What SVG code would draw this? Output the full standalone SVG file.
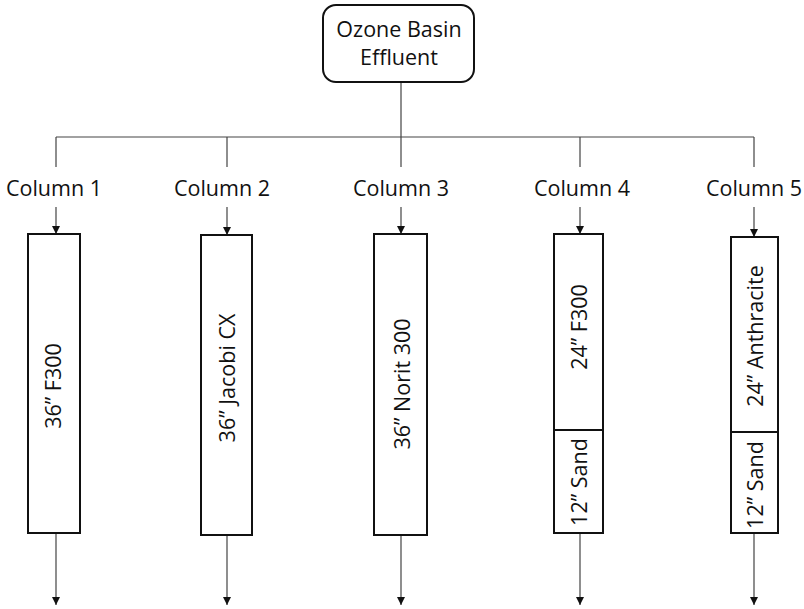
<svg xmlns="http://www.w3.org/2000/svg" width="804" height="609" viewBox="0 0 804 609">
<style>
text{font-family:"Open Sans","Liberation Sans",sans-serif;font-size:21.5px;fill:#111}
.box{fill:#fff;stroke:#111;stroke-width:2}
.ln{fill:none;stroke:#444;stroke-width:1.2}
.arr{fill:none;stroke:#444;stroke-width:1.2;marker-end:url(#ah)}
.c{text-anchor:middle}
</style>
<defs>
<marker id="ah" markerWidth="10" markerHeight="10" refX="9" refY="5" orient="auto" markerUnits="userSpaceOnUse">
<path d="M1,1 L9,5 L1,9 z" fill="#111"/>
</marker>
</defs>
<rect width="804" height="609" fill="#fff"/>
<g id="connectors">
<path class="ln" d="M401,82 V137 M56,137 H754 M56,137 V167 M227,137 V167 M401,137 V167 M580,137 V167 M754,137 V167"/>
<path class="arr" d="M56,207 V234"/>
<path class="arr" d="M227,207 V235"/>
<path class="arr" d="M401,207 V234"/>
<path class="arr" d="M580,207 V234"/>
<path class="arr" d="M754,207 V237"/>
<path class="arr" d="M56,533 V605"/>
<path class="arr" d="M227,535 V605"/>
<path class="arr" d="M401,535 V605"/>
<path class="arr" d="M580,533 V605"/>
<path class="arr" d="M754,533 V605"/>
</g>
<g id="source">
<rect class="box" x="323" y="5" width="151" height="77" rx="13"/>
<text class="c" x="399" y="37">Ozone Basin</text>
<text class="c" x="399" y="65">Effluent</text>
</g>
<g id="label1"><text class="c" x="54" y="196">Column 1</text></g>
<g id="label2"><text class="c" x="222" y="196">Column 2</text></g>
<g id="label3"><text class="c" x="401" y="196">Column 3</text></g>
<g id="label4"><text class="c" x="582" y="196">Column 4</text></g>
<g id="label5"><text class="c" x="754" y="196">Column 5</text></g>
<g id="column1">
<rect class="box" x="28" y="234" width="52" height="299"/>
<text class="c" transform="translate(53,386) rotate(-90)" dy="7.5">36” F300</text>
</g>
<g id="column2">
<rect class="box" x="201" y="235" width="51" height="300"/>
<text class="c" transform="translate(227,378) rotate(-90)" dy="7.5">36” Jacobi CX</text>
</g>
<g id="column3">
<rect class="box" x="374" y="234" width="53" height="301"/>
<text class="c" transform="translate(402,384) rotate(-90)" dy="7.5">36” Norit 300</text>
</g>
<g id="column4">
<rect class="box" x="554" y="234" width="49" height="299"/>
<line class="box" x1="554" y1="430" x2="603" y2="430"/>
<text class="c" transform="translate(579,327) rotate(-90)" dy="7.5">24” F300</text>
<text class="c" transform="translate(579,482) rotate(-90)" dy="7.5">12” Sand</text>
</g>
<g id="column5">
<rect class="box" x="731" y="237" width="47" height="296"/>
<line class="box" x1="731" y1="432" x2="778" y2="432"/>
<text class="c" transform="translate(755,336) rotate(-90)" dy="7.5">24” Anthracite</text>
<text class="c" transform="translate(755,485) rotate(-90)" dy="7.5">12” Sand</text>
</g>
</svg>
